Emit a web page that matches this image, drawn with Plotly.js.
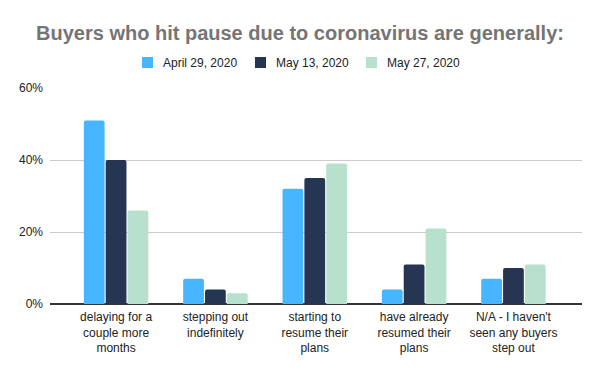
<!DOCTYPE html>
<html><head><meta charset="utf-8">
<script src="https://cdn.plot.ly/plotly-3.0.1.min.js"></script>
<style>html,body{margin:0;padding:0;background:#fff}#chart{width:600px;height:371px}</style>
</head><body><div id="chart"></div>
<script>
const categories = [
  "delaying for a<br>couple more<br>months",
  "stepping out<br>indefinitely",
  "starting to<br>resume their<br>plans",
  "have already<br>resumed their<br>plans",
  "N/A - I haven't<br>seen any buyers<br>step out"
];
const seriesNames = ["April 29, 2020", "May 13, 2020", "May 27, 2020"];
const april29 = [0.51, 0.07, 0.32, 0.04, 0.07];
const may13 = [0.40, 0.04, 0.35, 0.11, 0.10];
const may27 = [0.26, 0.03, 0.39, 0.21, 0.11];
const yTicks = [0, 0.2, 0.4, 0.6];
const yTickLabels = ["0%", "20%", "40%", "60%"];

const colors = ["#47b5ff", "#253552", "#b7e1cd"];
const idx = categories.map((_, i) => i);
const traces = [april29, may13, may27].map((vals, k) => ({
  type: "bar", x: idx, y: vals, name: seriesNames[k],
  marker: {color: colors[k], line: {width: 0}},
  hoverinfo: "skip"
}));

// custom legend (paper coordinates relative to the plot area)
const legendSquareX = [[0.1729, 0.1936], [0.3853, 0.4060], [0.5940, 0.6147]];
const legendTextX = [0.2090, 0.4214, 0.6301];
const shapes = legendSquareX.map((p, k) => ({
  type: "rect", xref: "paper", yref: "paper",
  x0: p[0], x1: p[1], y0: 1.0926, y1: 1.1435,
  fillcolor: colors[k], line: {width: 0}
}));
const annotations = seriesNames.map((n, k) => ({
  text: n, xref: "paper", yref: "paper", x: legendTextX[k], y: 1.118,
  xanchor: "left", yanchor: "middle", showarrow: false,
  font: {size: 12, color: "#222"}
}));

const layout = {
  width: 600, height: 371,
  paper_bgcolor: "#fff", plot_bgcolor: "#fff",
  margin: {l: 50, r: 18, t: 88, b: 67},
  font: {family: "Liberation Sans, Arial, sans-serif", size: 12, color: "#222"},
  title: {text: "<b>Buyers who hit pause due to coronavirus are generally:</b>",
    font: {size: 20, color: "#757575", family: "Liberation Sans, Arial, sans-serif"},
    x: 0.5, xanchor: "center", xref: "container", y: 1 - 33/371, yref: "container", yanchor: "middle"},
  showlegend: false,
  shapes: shapes,
  annotations: annotations,
  barmode: "group", bargap: 0.34, bargroupgap: 0.05, barcornerradius: 2,
  xaxis: {range: [-0.665, 4.69], tickvals: idx, ticktext: categories,
    showgrid: false, zeroline: false, showline: false, ticks: "",
    tickfont: {size: 12, color: "#222"}, ticklabelstandoff: 4, fixedrange: true},
  yaxis: {range: [0, 0.6], tickvals: yTicks, ticktext: yTickLabels,
    showgrid: true, gridcolor: "#cccccc", gridwidth: 1,
    zeroline: true, zerolinecolor: "#333333", zerolinewidth: 1.5,
    showline: false, ticks: "", tickfont: {size: 12, color: "#222"},
    ticklabelstandoff: 6, fixedrange: true}
};
Plotly.newPlot("chart", traces, layout, {displayModeBar: false, staticPlot: true});
</script></body></html>
